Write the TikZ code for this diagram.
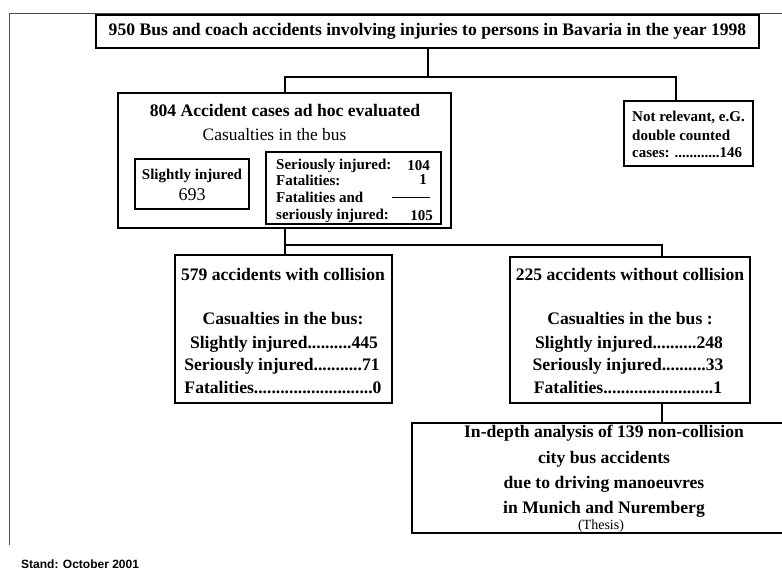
\documentclass[tikz,border=0pt]{standalone}
\usepackage{fontspec}
\setmainfont{Liberation Serif}
\newfontfamily\arialfont{Liberation Sans}
\begin{document}
\begin{tikzpicture}[x=1pt,y=-1pt,
  box/.style={draw,line width=1.1pt,inner sep=0pt,rectangle},
  link/.style={line width=2pt},
  txt/.style={inner sep=0pt,anchor=center},
  big/.style={font=\fontsize{17.6}{19}\selectfont\bfseries},
  reg/.style={font=\fontsize{17.4}{19}\selectfont},
  small/.style={font=\fontsize{15}{16}\selectfont\bfseries}]
\useasboundingbox (0,0) rectangle (782,570);
% frame
\draw[line width=0.8pt,black!70] (9,545) -- (9,13) -- (782,13);
% boxes
\node[box,line width=1.4pt,minimum width=663pt,minimum height=33pt] (title) at (427.5,31.5) {};
\node[box,minimum width=333pt,minimum height=135pt] (b804) at (284.5,160.5) {};
\node[box,minimum width=129pt,minimum height=65pt] (notrel) at (688.5,133.5) {};
\node[box,minimum width=114pt,minimum height=50pt] (slight) at (192,184) {};
\node[box,minimum width=175pt,minimum height=72pt] (serious) at (353.5,188) {};
\node[box,minimum width=217pt,minimum height=148pt] (coll) at (283.5,329) {};
\node[box,minimum width=240pt,minimum height=146pt] (noncoll) at (630,330) {};
\node[box,minimum width=384pt,minimum height=110pt] (indepth) at (604,478) {};
% connectors
\coordinate (j1) at (427.5,77);
\coordinate (j2) at (284.5,245);
\draw[link] (title.south) -- (j1);
\draw[link] (b804.north) |- (j1) -| ([xshift=53pt]notrel.north west);
\draw[link] (b804.south) -- (coll.north -| b804.south);
\draw[link] (j2) -| ([xshift=153pt]noncoll.north west);
\draw[link] ([xshift=153pt]noncoll.south west) -- ([xshift=153pt]noncoll.south west |- indepth.north);
% texts
\node[txt,big] (t0) at (427.5,31.5) {950 Bus and coach accidents involving injuries to persons in Bavaria in the year 1998};
\node[txt,big] (t1) at (285,110) {804 Accident cases ad hoc evaluated};
\node[txt,reg] (t2) at (274.5,135) {Casualties in the bus};
\node[txt,small] (t3) at (192,176) {Slightly injured};
\node[txt,font=\fontsize{18}{19}\selectfont] (t4) at (192,195) {693};
\begin{scope}[every node/.style={small,inner sep=0pt}]
\node[anchor=west] (s1) at (276,166) {Seriously injured:};
\node[anchor=east] (s1n) at (430,166) {104};
\node[anchor=west] (s2) at (276,180) {Fatalities:};
\node[anchor=east] (s2n) at (427,180) {1};
\node[anchor=west] (s3) at (276,197.5) {Fatalities and};
\node[anchor=west] (s4) at (276,216) {seriously injured:};
\node[anchor=east] (s4n) at (433,216) {105};
\end{scope}
\draw[line width=1pt] (392,197) -- (430,197);
\begin{scope}[every node/.style={small,inner sep=0pt,anchor=west}]
\node (n1) at (632,117) {Not relevant, e.G.};
\node (n2) at (632,135) {double counted};
\node (n3) at (632,153) {cases: ............146};
\end{scope}
\begin{scope}[every node/.style={big,inner sep=0pt,anchor=center}]
\node (c1) at (283,274) {579 accidents with collision};
\node (c2) at (283,319) {Casualties in the bus:};
\node (c3) at (284,344) {Slightly injured..........445};
\node (c4) at (282,366) {Seriously injured...........71};
\node (c5) at (283,388) {Fatalities...........................0};
\node (d1) at (630,274) {225 accidents without collision};
\node (d2) at (630,319) {Casualties in the bus :};
\node (d3) at (629,344) {Slightly injured..........248};
\node (d4) at (628,366) {Seriously injured..........33};
\node (d5) at (628,388) {Fatalities.........................1};
\node (e1) at (604,433) {In-depth analysis of 139 non-collision};
\node (e2) at (604,459) {city bus accidents};
\node (e3) at (604,484) {due to driving manoeuvres};
\node (e4) at (604,509) {in Munich and Nuremberg};
\end{scope}
\node[txt,font=\fontsize{14}{15}\selectfont] (e5) at (601,526) {(Thesis)};
\node[inner sep=0pt,anchor=west,font=\arialfont\fontsize{12}{13}\selectfont\bfseries] (stand) at (21,564) {Stand: October 2001};
\end{tikzpicture}
\end{document}
